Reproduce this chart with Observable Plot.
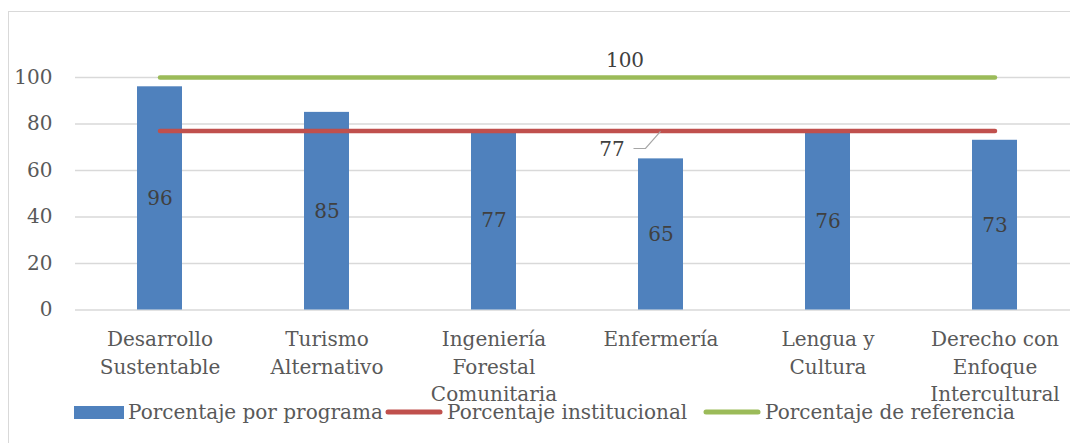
<!DOCTYPE html>
<html>
<head>
<meta charset="utf-8">
<script src="https://cdn.jsdelivr.net/npm/d3@7"></script>
<script src="https://cdn.jsdelivr.net/npm/@observablehq/plot@0.6"></script>
<style>
  html, body { margin: 0; padding: 0; background: #fff; overflow: hidden; }
  #wrap { position: relative; width: 1070px; height: 443px; overflow: hidden; }
  #frame { position: absolute; left: 8px; top: 11px; width: 1200px; height: 600px;
           border-top: 1.5px solid #d9d9d9; border-left: 1.5px solid #d9d9d9; box-sizing: border-box; }
  #chart { position: absolute; left: 0; top: 0; width: 1080px; }
  #chart svg { max-width: none !important; }
  #legend { position: absolute; left: 0; top: 397px; width: 1070px; height: 30px;
            font-family: "DejaVu Serif"; font-size: 20px; color: #595959; white-space: nowrap; }
  .item { position: absolute; top: 0; display: flex; align-items: center; }
  .sw { margin-right: 4px; }
</style>
</head>
<body>
<div id="wrap">
  <div id="frame"></div>
  <div id="chart"></div>
  <div id="legend"></div>
</div>
<script>
const categories = ["Desarrollo Sustentable", "Turismo Alternativo", "Ingeniería Forestal Comunitaria", "Enfermería", "Lengua y Cultura", "Derecho con Enfoque Intercultural"];
const tickLabels = ["Desarrollo\nSustentable", "Turismo\nAlternativo", "Ingeniería\nForestal\nComunitaria", "Enfermería", "Lengua y\nCultura", "Derecho con\nEnfoque\nIntercultural"];
const programValues = [96, 85, 77, 65, 76, 73];
const institutionalValues = [77, 77, 77, 77, 77, 77];
const referenceValues = [100, 100, 100, 100, 100, 100];
const yTicks = [0, 20, 40, 60, 80, 100];
const seriesNames = ["Porcentaje por programa", "Porcentaje institucional", "Porcentaje de referencia"];
const seriesColors = ["#4f81bd", "#c0504d", "#9bbb59"];
const legendLeft = [74, 385, 703];

const data = categories.map((c, i) => ({
  category: c, label: tickLabels[i],
  value: programValues[i], institutional: institutionalValues[i], reference: referenceValues[i]
}));
const labelAt = categories[3];

const plot = Plot.plot({
  width: 1080, height: 443,
  marginTop: 77, marginBottom: 133.5, marginLeft: 75, marginRight: 0,
  style: { fontFamily: "DejaVu Serif", fontSize: "20px", color: "#595959", background: "transparent", overflow: "visible", maxWidth: "none" },
  x: { domain: categories, paddingInner: 0.73, paddingOuter: 0.365, label: null },
  y: { domain: [0, 100], label: null },
  marks: [
    Plot.ruleY(yTicks, { stroke: "#d9d9d9", strokeWidth: 1.5 }),
    Plot.barY(data, { x: "category", y: "value", fill: seriesColors[0] }),
    Plot.lineY(data, { x: "category", y: "institutional", stroke: seriesColors[1], strokeWidth: 4.5, strokeLinecap: "round" }),
    Plot.lineY(data, { x: "category", y: "reference", stroke: seriesColors[2], strokeWidth: 4.5, strokeLinecap: "round" }),
    Plot.text(data, { x: "category", y: d => d.value / 2, text: d => String(d.value), fill: "#404040", fontSize: 20 }),
    Plot.text(data.filter(d => d.category === labelAt), { x: "category", y: "reference", text: d => String(d.reference), fill: "#404040", fontSize: 20, dx: -36, dy: -17 }),
    Plot.text(data.filter(d => d.category === labelAt), { x: "category", y: "institutional", text: d => String(d.institutional), fill: "#404040", fontSize: 20, dx: -49, dy: 19 }),
    Plot.axisY({ ticks: yTicks, tickSize: 0, tickPadding: 23, fontSize: 20, label: null }),
    Plot.axisX({ tickSize: 0, tickPadding: 17, fontSize: 20, lineHeight: 1.36, label: null,
                 tickFormat: d => tickLabels[categories.indexOf(d)] })
  ]
});
plot.style.maxWidth = "none";
document.getElementById("chart").append(plot);

// leader line for the "77" label, positioned with the plot's own scales
const xs = plot.scale("x"), ys = plot.scale("y");
const cx = xs.apply(labelAt) + xs.bandwidth / 2;
const cy = ys.apply(institutionalValues[3]);
d3.select(plot).append("path")
  .attr("d", `M${cx - 27},${cy + 18}H${cx - 15}L${cx},${cy + 1}`)
  .attr("fill", "none").attr("stroke", "#a6a6a6").attr("stroke-width", 1.2);

// legend
const legend = d3.select("#legend");
seriesNames.forEach((name, i) => {
  const it = legend.append("div").attr("class", "item").style("left", legendLeft[i] + "px").style("height", "30px");
  if (i === 0) {
    it.append("div").attr("class", "sw").style("width", "50px").style("height", "13px").style("background", seriesColors[i]);
  } else {
    const s = it.append("svg").attr("class", "sw").attr("width", 58).attr("height", 10);
    s.append("line").attr("x1", 3).attr("x2", 55).attr("y1", 5).attr("y2", 5)
      .attr("stroke", seriesColors[i]).attr("stroke-width", 5).attr("stroke-linecap", "round");
  }
  it.append("span").text(name);
});
</script>
</body>
</html>
